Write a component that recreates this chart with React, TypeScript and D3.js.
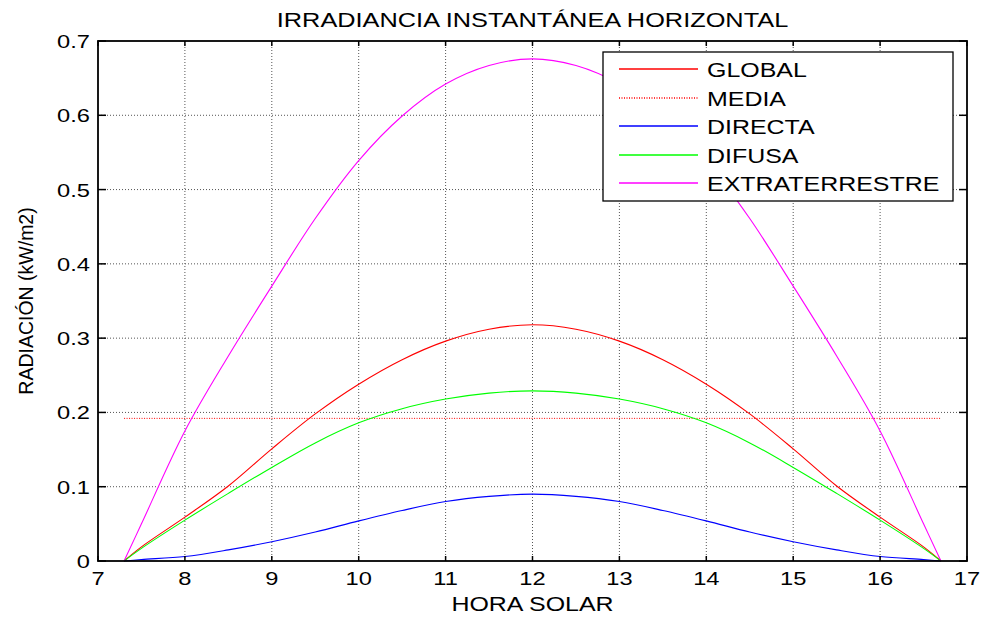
import * as d3 from 'd3';

// hora solar (h) y radiación (kW/m2)
const horas = [7.3, 7.5, 8, 8.5, 9, 9.5, 10, 10.5, 11, 11.5, 12, 12.5, 13, 13.5, 14, 14.5, 15, 15.5, 16, 16.5, 16.7];
const globalRad = [0, 0.019, 0.059, 0.101, 0.151, 0.198, 0.238, 0.271, 0.296, 0.312, 0.318, 0.312, 0.296, 0.271, 0.238, 0.198, 0.151, 0.101, 0.059, 0.019, 0];
const directa = [0, 0.002, 0.006, 0.015, 0.026, 0.039, 0.054, 0.068, 0.08, 0.087, 0.09, 0.087, 0.08, 0.068, 0.054, 0.039, 0.026, 0.015, 0.006, 0.002, 0];
const difusa = [0, 0.017, 0.055, 0.091, 0.126, 0.159, 0.186, 0.205, 0.218, 0.226, 0.229, 0.226, 0.218, 0.205, 0.186, 0.159, 0.126, 0.091, 0.055, 0.017, 0];
const extraterrestre = [0, 0.05, 0.175, 0.276, 0.37, 0.461, 0.539, 0.599, 0.642, 0.667, 0.676, 0.667, 0.642, 0.599, 0.539, 0.461, 0.37, 0.276, 0.175, 0.05, 0];
const media = 0.192;
const mediaRango = [7.3, 16.7];

const xTicks = [7, 8, 9, 10, 11, 12, 13, 14, 15, 16, 17];
const yTicks = [0, 0.1, 0.2, 0.3, 0.4, 0.5, 0.6, 0.7];

const series = [
  { name: 'GLOBAL', color: '#ff0000', values: globalRad, dash: undefined },
  { name: 'MEDIA', color: '#ff0000', values: null, dash: '1,1.5' },
  { name: 'DIRECTA', color: '#0000ff', values: directa, dash: undefined },
  { name: 'DIFUSA', color: '#00ff00', values: difusa, dash: undefined },
  { name: 'EXTRATERRESTRE', color: '#ff00ff', values: extraterrestre, dash: undefined },
];

const W = 984;
const H = 617;
const m = { left: 98, right: 967, top: 41, bottom: 561 };
const SX = 1.28; // el texto original está ensanchado
const FONT = 'Arial, "Liberation Sans", Helvetica, sans-serif';

const Txt = ({ x, y, size, anchor = 'start', children }: any) => (
  <g transform={`translate(${x},${y}) scale(${SX},1)`}>
    <text x={0} y={0} fontSize={size} textAnchor={anchor} fontFamily={FONT} fill="#000">
      {children}
    </text>
  </g>
);

export default function App() {
  const x = d3.scaleLinear().domain([7, 17]).range([m.left, m.right]);
  const y = d3.scaleLinear().domain([0, 0.7]).range([m.bottom, m.top]);

  const line = (vals: number[]) =>
    d3
      .line<number>()
      .x((_, i) => x(horas[i]))
      .y((d) => y(d))
      .curve(d3.curveCatmullRom.alpha(0.5))(vals) || '';

  const lx = 603;
  const ly = 52;
  const rowH = 28.5;

  return (
    <svg width={W} height={H} style={{ position: 'absolute', left: 0, top: 0, background: '#fff' }}>
      <rect x={0} y={0} width={W} height={H} fill="#fff" />
      {/* rejilla */}
      {xTicks.slice(1, -1).map((t) => (
        <line key={'gx' + t} x1={x(t)} x2={x(t)} y1={m.top} y2={m.bottom} stroke="#555" strokeWidth={1} strokeDasharray="1,2" />
      ))}
      {yTicks.slice(1, -1).map((t) => (
        <line key={'gy' + t} x1={m.left} x2={m.right} y1={y(t)} y2={y(t)} stroke="#555" strokeWidth={1} strokeDasharray="1,2" />
      ))}

      {/* series */}
      <line x1={x(mediaRango[0])} x2={x(mediaRango[1])} y1={y(media)} y2={y(media)} stroke="#ff0000" strokeWidth={1} strokeDasharray="1,1.5" />
      {series
        .filter((s) => s.values)
        .map((s) => (
          <path key={s.name} d={line(s.values as number[])} fill="none" stroke={s.color} strokeWidth={1.1} />
        ))}

      {/* ticks */}
      {xTicks.map((t) => (
        <g key={'tx' + t}>
          <line x1={x(t)} x2={x(t)} y1={m.bottom} y2={m.bottom - 5} stroke="#000" strokeWidth={1.5} />
          <line x1={x(t)} x2={x(t)} y1={m.top} y2={m.top + 5} stroke="#000" strokeWidth={1.5} />
          <Txt x={x(t)} y={585} size={18.5} anchor="middle">{t}</Txt>
        </g>
      ))}
      {yTicks.map((t) => (
        <g key={'ty' + t}>
          <line x1={m.left} x2={m.left + 8} y1={y(t)} y2={y(t)} stroke="#000" strokeWidth={1.5} />
          <line x1={m.right} x2={m.right - 8} y1={y(t)} y2={y(t)} stroke="#000" strokeWidth={1.5} />
          <Txt x={90} y={y(t) + 7} size={18.5} anchor="end">{t === 0 ? '0' : t.toFixed(1)}</Txt>
        </g>
      ))}

      {/* caja de ejes */}
      <rect x={m.left} y={m.top} width={m.right - m.left} height={m.bottom - m.top} fill="none" stroke="#000" strokeWidth={1.8} />

      {/* leyenda */}
      <rect x={lx} y={ly} width={350} height={149} fill="#fff" stroke="#000" strokeWidth={1.3} />
      {series.map((s, i) => {
        const yy = Math.round(ly + 17 + i * rowH);
        return (
          <g key={'lg' + s.name}>
            <line x1={619} x2={698} y1={yy} y2={yy} stroke={s.color} strokeWidth={1.6} strokeDasharray={s.dash} />
            <Txt x={707} y={ly + 25 + i * rowH} size={19.5}>{s.name}</Txt>
          </g>
        );
      })}

      {/* títulos */}
      <Txt x={(m.left + m.right) / 2} y={27} size={19.8} anchor="middle">IRRADIANCIA INSTANTÁNEA HORIZONTAL</Txt>
      <Txt x={(m.left + m.right) / 2} y={611} size={19.5} anchor="middle">HORA SOLAR</Txt>
      <text
        transform={`translate(33,${(m.top + m.bottom) / 2}) rotate(-90)`}
        textAnchor="middle"
        fontSize={19.5}
        fontFamily={FONT}
        fill="#000"
      >
        RADIACIÓN (kW/m2)
      </text>
    </svg>
  );
}
